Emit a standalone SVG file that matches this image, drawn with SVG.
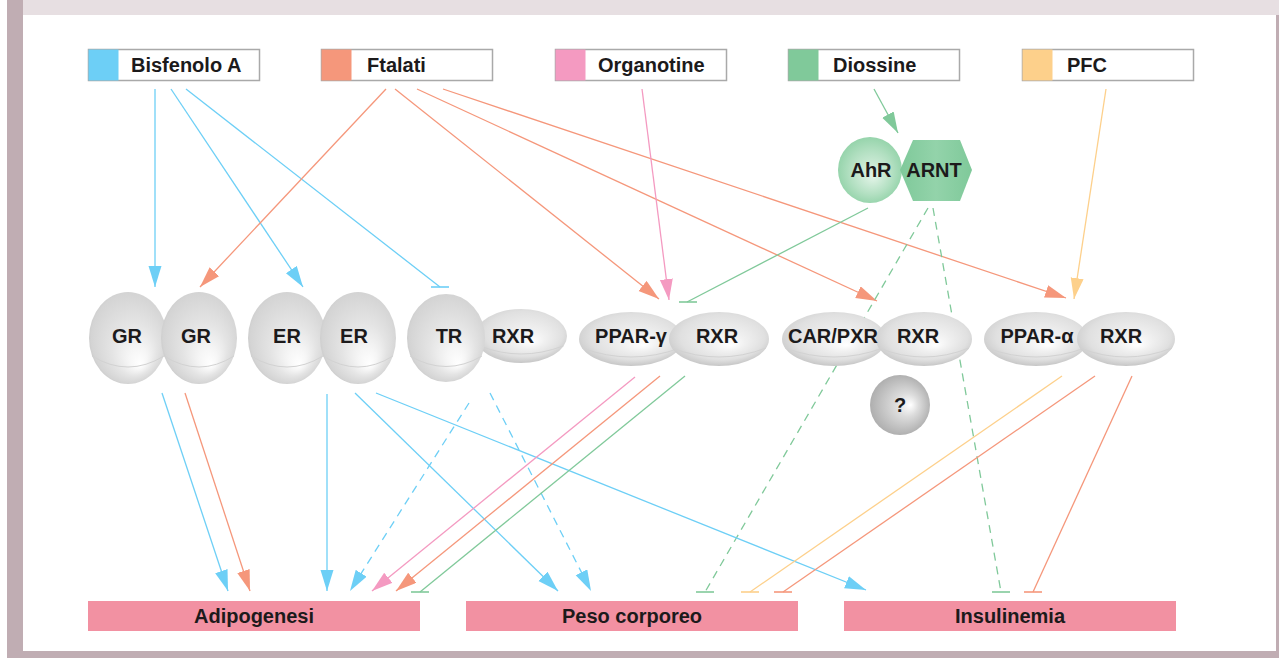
<svg xmlns="http://www.w3.org/2000/svg" width="1279" height="658" viewBox="0 0 1279 658">
<defs>
<style>
text{font-family:"Liberation Sans",Arial,sans-serif;font-weight:bold;fill:#1c1a1b;}
.lbl{font-size:20px;}
.rl{font-size:20px;text-anchor:middle;}
.ol{font-size:20px;text-anchor:middle;}
.c{fill:none;stroke-width:1.3;}
.b{stroke:#6dcff6;}
.o{stroke:#f5977b;}
.p{stroke:#f49ac1;}
.g{stroke:#80c99a;}
.y{stroke:#fdd08b;}
.d{stroke-dasharray:8 6;}
.bar{stroke-width:1.6;}
.src{fill:#fff;stroke:#a9a9a9;stroke-width:1.5;}
.out{fill:#f291a2;}
.rim{fill:none;stroke:#d2d2d2;stroke-width:1;}
</style>
<radialGradient id="sph" cx="0.5" cy="0.45" r="0.58" fx="0.66" fy="0.8">
<stop offset="0" stop-color="#ffffff"/>
<stop offset="0.2" stop-color="#f6f6f6"/>
<stop offset="0.5" stop-color="#e4e4e4"/>
<stop offset="0.85" stop-color="#d4d4d4"/>
<stop offset="1" stop-color="#bfbfbf"/>
</radialGradient>
<radialGradient id="disc" cx="0.5" cy="0.4" r="0.6" fx="0.62" fy="0.62">
<stop offset="0" stop-color="#ffffff"/>
<stop offset="0.3" stop-color="#f0f0f0"/>
<stop offset="0.7" stop-color="#e0e0e0"/>
<stop offset="1" stop-color="#c6c6c6"/>
</radialGradient>
<radialGradient id="q" cx="0.5" cy="0.5" r="0.55" fx="0.68" fy="0.5">
<stop offset="0" stop-color="#ffffff"/>
<stop offset="0.35" stop-color="#dcdcdc"/>
<stop offset="1" stop-color="#a9a9a9"/>
</radialGradient>
<radialGradient id="ahr" cx="0.5" cy="0.5" r="0.55" fx="0.55" fy="0.6">
<stop offset="0" stop-color="#e3f4e8"/>
<stop offset="0.6" stop-color="#b3e0c2"/>
<stop offset="1" stop-color="#8fd1a6"/>
</radialGradient>
<linearGradient id="arnt" x1="0" y1="0" x2="1" y2="0">
<stop offset="0" stop-color="#7fc99a"/>
<stop offset="0.5" stop-color="#93d3aa"/>
<stop offset="1" stop-color="#7fc99a"/>
</linearGradient>
<marker id="ab" markerUnits="userSpaceOnUse" markerWidth="22" markerHeight="14" refX="21" refY="6.5" orient="auto"><path d="M0,0 L21,6.5 L0,13 z" fill="#6dcff6"/></marker>
<marker id="ao" markerUnits="userSpaceOnUse" markerWidth="22" markerHeight="14" refX="21" refY="6.5" orient="auto"><path d="M0,0 L21,6.5 L0,13 z" fill="#f5977b"/></marker>
<marker id="ap" markerUnits="userSpaceOnUse" markerWidth="22" markerHeight="14" refX="21" refY="6.5" orient="auto"><path d="M0,0 L21,6.5 L0,13 z" fill="#f49ac1"/></marker>
<marker id="ag" markerUnits="userSpaceOnUse" markerWidth="22" markerHeight="14" refX="21" refY="6.5" orient="auto"><path d="M0,0 L21,6.5 L0,13 z" fill="#80c99a"/></marker>
<marker id="ay" markerUnits="userSpaceOnUse" markerWidth="22" markerHeight="14" refX="21" refY="6.5" orient="auto"><path d="M0,0 L21,6.5 L0,13 z" fill="#fdd08b"/></marker>
</defs>

<!-- frame -->
<rect x="0" y="0" width="1279" height="658" fill="#ffffff"/>
<rect x="23" y="0" width="1256" height="15" fill="#e7dfe2"/>
<rect x="7" y="0" width="16" height="658" fill="#c0adb3"/>
<rect x="23" y="651" width="1256" height="7" fill="#c0adb3"/>
<rect x="1276" y="15" width="3" height="636" fill="#c0adb3"/>

<g id="connectors">
<line class="c b" x1="155" y1="89" x2="155" y2="287" marker-end="url(#ab)"/>
<line class="c b" x1="171" y1="89" x2="303" y2="287" marker-end="url(#ab)"/>
<line class="c b" x1="186" y1="89" x2="440" y2="287"/>
<line class="c b bar" x1="431" y1="287" x2="449" y2="287"/>
<line class="c o" x1="386" y1="89" x2="200" y2="287" marker-end="url(#ao)"/>
<line class="c o" x1="395" y1="89" x2="659" y2="299" marker-end="url(#ao)"/>
<line class="c o" x1="417" y1="89" x2="877" y2="301" marker-end="url(#ao)"/>
<line class="c o" x1="443" y1="89" x2="1066" y2="298" marker-end="url(#ao)"/>
<line class="c p" x1="642" y1="89" x2="669" y2="300" marker-end="url(#ap)"/>
<line class="c g" x1="874" y1="89" x2="898" y2="133" marker-end="url(#ag)"/>
<line class="c y" x1="1106" y1="89" x2="1074" y2="299" marker-end="url(#ay)"/>
<line class="c g" x1="868" y1="208" x2="687" y2="302"/>
<line class="c g bar" x1="679" y1="302" x2="697" y2="302"/>
<line class="c g d" x1="928" y1="208" x2="705" y2="592"/>
<line class="c g bar" x1="696" y1="592" x2="714" y2="592"/>
<line class="c g d" x1="933" y1="208" x2="1001" y2="592"/>
<line class="c g bar" x1="992" y1="592" x2="1010" y2="592"/>
<line class="c b" x1="162" y1="393" x2="228" y2="591" marker-end="url(#ab)"/>
<line class="c o" x1="185" y1="393" x2="250" y2="591" marker-end="url(#ao)"/>
<line class="c b" x1="327" y1="394" x2="327" y2="591" marker-end="url(#ab)"/>
<line class="c b" x1="355" y1="393" x2="558" y2="591" marker-end="url(#ab)"/>
<line class="c b" x1="376" y1="393" x2="866" y2="590" marker-end="url(#ab)"/>
<line class="c b d" x1="469" y1="403" x2="350" y2="591" marker-end="url(#ab)"/>
<line class="c b d" x1="490" y1="393" x2="591" y2="591" marker-end="url(#ab)"/>
<line class="c p" x1="635" y1="377" x2="372" y2="591" marker-end="url(#ap)"/>
<line class="c o" x1="660" y1="376" x2="396" y2="591" marker-end="url(#ao)"/>
<line class="c g" x1="685" y1="376" x2="420" y2="592"/>
<line class="c g bar" x1="411" y1="592" x2="429" y2="592"/>
<line class="c y" x1="1062" y1="376" x2="750" y2="592"/>
<line class="c y bar" x1="741" y1="592" x2="759" y2="592"/>
<line class="c o" x1="1095" y1="376" x2="783" y2="592"/>
<line class="c o bar" x1="774" y1="592" x2="792" y2="592"/>
<line class="c o" x1="1132" y1="376" x2="1033" y2="592"/>
<line class="c o bar" x1="1024" y1="592" x2="1042" y2="592"/>
</g>

<g id="src-bisfenolo">
<rect class="src" x="88.5" y="49.5" width="171" height="31"/>
<rect x="88.5" y="49.5" width="30" height="31" fill="#6dcff6"/>
<text class="lbl" x="131" y="72">Bisfenolo A</text>
</g>
<g id="src-ftalati">
<rect class="src" x="321.5" y="49.5" width="171" height="31"/>
<rect x="321.5" y="49.5" width="30" height="31" fill="#f5977b"/>
<text class="lbl" x="367" y="72">Ftalati</text>
</g>
<g id="src-organotine">
<rect class="src" x="555.5" y="49.5" width="171" height="31"/>
<rect x="555.5" y="49.5" width="30" height="31" fill="#f49ac1"/>
<text class="lbl" x="598" y="72">Organotine</text>
</g>
<g id="src-diossine">
<rect class="src" x="788.5" y="49.5" width="171" height="31"/>
<rect x="788.5" y="49.5" width="30" height="31" fill="#80c99a"/>
<text class="lbl" x="833" y="72">Diossine</text>
</g>
<g id="src-pfc">
<rect class="src" x="1022.5" y="49.5" width="171" height="31"/>
<rect x="1022.5" y="49.5" width="30" height="31" fill="#fdd08b"/>
<text class="lbl" x="1067" y="72">PFC</text>
</g>

<g id="ahr-arnt">
<ellipse cx="870" cy="170" rx="32" ry="33" fill="url(#ahr)"/>
<polygon points="900,170 913,140 960,140 972,170 960,201 913,201" fill="url(#arnt)"/>
<text class="rl" x="871" y="177">AhR</text>
<text class="rl" x="934" y="177">ARNT</text>
</g>

<g id="gr-gr">
<ellipse cx="128" cy="338" rx="39" ry="46" fill="url(#sph)"/>
<path class="rim" d="M92,356 Q128,378 164,356"/>
<ellipse cx="199" cy="338" rx="38" ry="46" fill="url(#sph)"/>
<path class="rim" d="M164,356 Q199,378 234,356"/>
<text class="rl" x="127" y="343">GR</text>
<text class="rl" x="196" y="343">GR</text>
</g>
<g id="er-er">
<ellipse cx="287" cy="338" rx="39" ry="46" fill="url(#sph)"/>
<path class="rim" d="M251,356 Q287,378 323,356"/>
<ellipse cx="358" cy="338" rx="38" ry="46" fill="url(#sph)"/>
<path class="rim" d="M323,356 Q358,378 393,356"/>
<text class="rl" x="287" y="343">ER</text>
<text class="rl" x="354" y="343">ER</text>
</g>
<g id="tr-rxr">
<ellipse cx="521" cy="336" rx="46" ry="27" fill="url(#disc)"/>
<path class="rim" d="M480,346 Q521,362 563,346"/>
<ellipse cx="446" cy="338" rx="39" ry="44" fill="url(#sph)"/>
<path class="rim" d="M410,356 Q446,377 482,356"/>
<text class="rl" x="449" y="343">TR</text>
<text class="rl" x="513" y="343">RXR</text>
</g>
<g id="pparg-rxr">
<ellipse cx="631" cy="339" rx="52" ry="27" fill="url(#disc)"/>
<path class="rim" d="M582,348 Q631,366 680,348"/>
<ellipse cx="719" cy="339" rx="50" ry="27" fill="url(#disc)"/>
<path class="rim" d="M672,348 Q719,366 766,348"/>
<text class="rl" x="631" y="343">PPAR-γ</text>
<text class="rl" x="717" y="343">RXR</text>
</g>
<g id="carpxr-rxr">
<ellipse cx="834" cy="339" rx="52" ry="27" fill="url(#disc)"/>
<path class="rim" d="M785,348 Q834,366 883,348"/>
<ellipse cx="924" cy="339" rx="48" ry="27" fill="url(#disc)"/>
<path class="rim" d="M879,348 Q924,366 969,348"/>
<text class="rl" x="833" y="343">CAR/PXR</text>
<text class="rl" x="918" y="343">RXR</text>
</g>
<g id="ppara-rxr">
<ellipse cx="1036" cy="339" rx="52" ry="27" fill="url(#disc)"/>
<path class="rim" d="M987,348 Q1036,366 1085,348"/>
<ellipse cx="1126" cy="339" rx="49" ry="27" fill="url(#disc)"/>
<path class="rim" d="M1080,348 Q1126,366 1172,348"/>
<text class="rl" x="1037" y="343">PPAR-α</text>
<text class="rl" x="1121" y="343">RXR</text>
</g>
<g id="unknown">
<ellipse cx="900" cy="405" rx="30" ry="30" fill="url(#q)"/>
<text class="rl" x="900" y="412">?</text>
</g>

<g id="adipogenesi">
<rect class="out" x="88" y="601" width="332" height="30"/>
<text class="ol" x="254" y="623">Adipogenesi</text>
</g>
<g id="peso">
<rect class="out" x="466" y="601" width="332" height="30"/>
<text class="ol" x="632" y="623">Peso corporeo</text>
</g>
<g id="insulinemia">
<rect class="out" x="844" y="601" width="332" height="30"/>
<text class="ol" x="1010" y="623">Insulinemia</text>
</g>
</svg>
